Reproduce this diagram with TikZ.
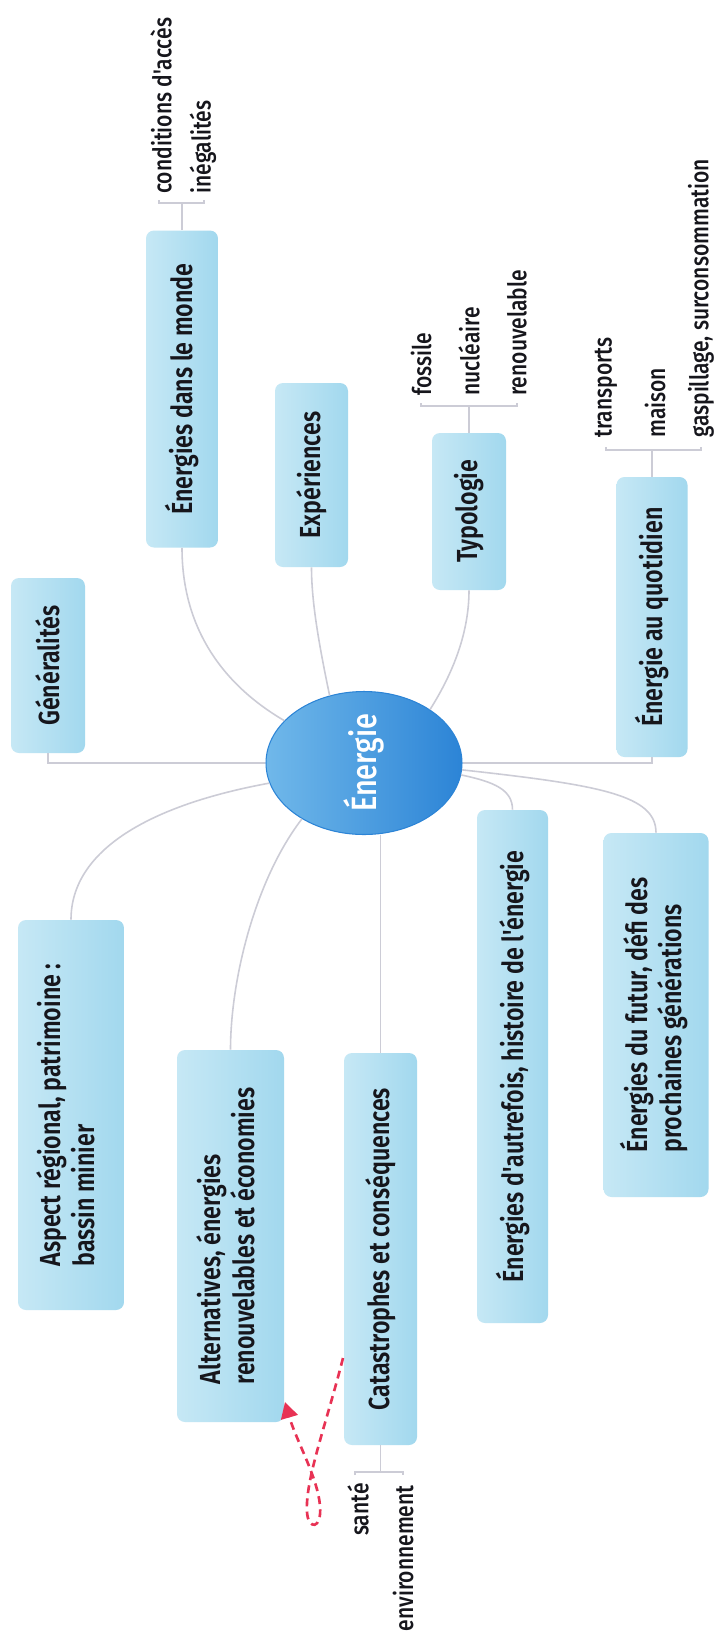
\documentclass[tikz,border=0pt]{standalone}
\usepackage{fontspec}
\usetikzlibrary{shapes.geometric,arrows.meta}
\setmainfont{Fira Sans}[FakeStretch=0.82]
\newfontfamily\medfont{Fira Sans Medium}[FakeStretch=0.82]
\newfontfamily\semifont{Fira Sans SemiBold}[FakeStretch=0.80]
\definecolor{boxL}{RGB}{198,232,245}
\definecolor{boxR}{RGB}{162,216,238}
\definecolor{ellL}{RGB}{112,184,234}
\definecolor{ellR}{RGB}{44,132,214}
\definecolor{connc}{RGB}{204,204,214}
\definecolor{redarrow}{RGB}{232,50,84}
\definecolor{txt}{RGB}{22,22,28}
\tikzset{
  topic/.style={rounded corners=0.16cm, left color=boxL, right color=boxR, inner sep=0pt,
     text=txt, font=\semifont\fontsize{16.5}{19.5}\selectfont},
  leaf/.style={inner sep=0pt, text=txt, font=\medfont\fontsize{14.6}{16}\selectfont, rotate=90},
  conn/.style={draw=connc, line width=0.9pt},
  relarrow/.style={draw=redarrow, line width=1.5pt, dash pattern=on 4.5pt off 3pt,
     -{Triangle[length=3.2mm,width=3.4mm]}},
}
\newcommand{\rt}[1]{\rotatebox{90}{#1}}
\newcommand{\rtt}[2]{\rotatebox{90}{\begin{tabular}{@{}l@{}}#1\\#2\end{tabular}}}
\begin{document}
\begin{tikzpicture}[x=0.02cm, y=-0.02cm]
\useasboundingbox (0,0) rectangle (719,1644);
\fill[white] (0,0) rectangle (719,1644);

% central node
\node[ellipse, minimum width=196*0.02cm, minimum height=143*0.02cm, inner sep=0pt,
      left color=ellL, right color=ellR, draw=ellR, line width=0.6pt,
      text=white, font=\medfont\fontsize{20}{22}\selectfont] (E) at (364,763) {\rt{Énergie}};

% topics
\node[topic, minimum width=72*0.02cm, minimum height=317*0.02cm] (monde) at (182,389) {\rt{Énergies dans le monde}};
\node[topic, minimum width=73*0.02cm, minimum height=184*0.02cm] (exper) at (311.5,475) {\rt{Expériences}};
\node[topic, minimum width=74*0.02cm, minimum height=157*0.02cm] (typo) at (469,511.5) {\rt{Typologie}};
\node[topic, minimum width=71*0.02cm, minimum height=280*0.02cm] (quot) at (652,617) {\rt{Énergie au quotidien}};
\node[topic, minimum width=74*0.02cm, minimum height=175*0.02cm] (gen) at (48,665.5) {\rt{Généralités}};
\node[topic, minimum width=106*0.02cm, minimum height=390*0.02cm] (aspect) at (71,1115) {\rtt{Aspect régional, patrimoine :}{bassin minier}};
\node[topic, minimum width=107*0.02cm, minimum height=372*0.02cm] (altern) at (230.5,1236) {\rtt{Alternatives, énergies}{renouvelables et économies}};
\node[topic, minimum width=73*0.02cm, minimum height=392*0.02cm] (catas) at (380.5,1249) {\rt{Catastrophes et conséquences}};
\node[topic, minimum width=71*0.02cm, minimum height=513*0.02cm] (autref) at (512.5,1066.5) {\rt{Énergies d'autrefois, histoire de l'énergie}};
\node[topic, minimum width=105*0.02cm, minimum height=364*0.02cm] (futur) at (656,1015) {\rtt{Énergies du futur, défi des}{prochaines générations}};

% connectors from centre
\draw[conn] (E.152) .. controls (215,680) and (182,620) .. (monde.south);
\draw[conn] (E.117) .. controls (318,640) and (311.5,600) .. (exper.south);
\draw[conn] (E.39) .. controls (455,670) and (469,630) .. (typo.south);
\draw[conn] (E.west) -- (gen.south |- E.west) -- (gen.south);
\draw[conn] (E.east) -- (quot.south |- E.east) -- (quot.south);
\draw[conn] (E.192) .. controls (150,805) and (71,850) .. (aspect.north);
\draw[conn] (E.222) .. controls (255,880) and (230.5,980) .. (altern.north);
\draw[conn] (E.south -| catas.north) -- (catas.north);
\draw[conn] (E.353) .. controls (495,782) and (512.5,790) .. (autref.north);
\draw[conn] (E.356) .. controls (600,785) and (656,795) .. (futur.north);

% leaves of "Énergies dans le monde"
\node[leaf, anchor=west] (l1) at (161,194) {conditions d'accès};
\node[leaf, anchor=west] (l2) at (203,194) {inégalités};
\coordinate (b1) at (182,203);
\draw[conn] (monde.north) -- (b1);
\draw[conn] (l1.west) ++(-2,6) -- ++(0,3) -| ([xshift=1*0.02cm, yshift=-6*0.02cm]l2.west);

% leaves of Typologie
\node[leaf, anchor=west] (t1) at (421,396) {fossile};
\node[leaf, anchor=west] (t2) at (469,396) {nucléaire};
\node[leaf, anchor=west] (t3) at (517,396) {renouvelable};
\coordinate (b2) at (469,406);
\draw[conn] (typo.north) -- (b2);
\draw[conn] (t1.west) ++(0,7) -- ++(0,3) -| ([yshift=-7*0.02cm]t3.west);

% leaves of Énergie au quotidien
\node[leaf, anchor=west] (q1) at (606,438) {transports};
\node[leaf, anchor=west] (q2) at (655,438) {maison};
\node[leaf, anchor=west] (q3) at (701,438) {gaspillage, surconsommation};
\coordinate (b3) at (652,450);
\draw[conn] (quot.north) -- (b3);
\draw[conn] (q1.west) ++(0,9) -- ++(0,3) -| ([yshift=-9*0.02cm]q3.west);

% leaves of Catastrophes
\node[leaf, anchor=east] (s1) at (358,1483) {santé};
\node[leaf, anchor=east] (s2) at (403,1485) {environnement};
\coordinate (b4) at (380.5,1472);
\draw[conn] (catas.south) -- (b4);
\draw[conn] (s1.east) ++(-3,-8) -- ++(0,-3) -| ([yshift=10*0.02cm]s2.east);

% red dashed relation
\coordinate (rs) at (343,1358);
\coordinate (ae) at (285,1402);
\draw[relarrow] (rs) .. controls (326,1425) and (305,1480) .. (307,1512)
   .. controls (308,1530) and (322,1530) .. (320,1506)
   .. controls (318,1478) and (296,1440) .. (ae);
\end{tikzpicture}
\end{document}
